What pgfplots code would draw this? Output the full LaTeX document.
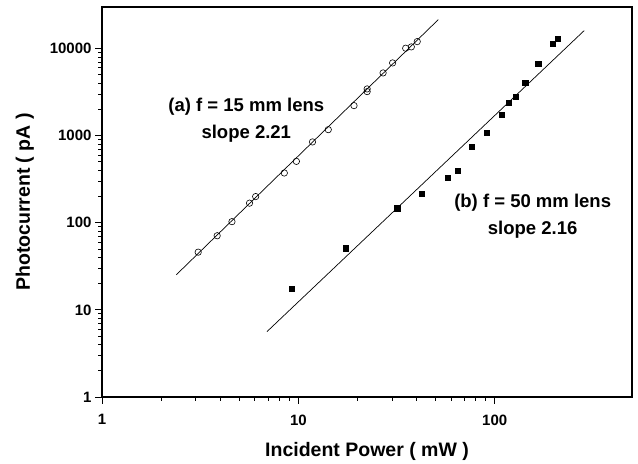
\documentclass[border=0pt]{standalone}
\usepackage{fontspec}
\setmainfont{Liberation Sans}
\usepackage{pgfplots}
\pgfplotsset{compat=1.18}

\begin{document}
\begin{tikzpicture}
\begin{axis}[
    name=ax,
    xmode=log, ymode=log,
    scale only axis,
    width=530pt, height=390pt,
    xmin=1, xmax=500,
    ymin=1, ymax=30000,
    xtick={1,10,100}, xticklabels={1,10,100},
    ytick={1,10,100,1000,10000}, yticklabels={1,10,100,1000,10000},
    xtick pos=bottom, ytick pos=left,
    tick align=outside,
    major tick length=7pt, minor tick length=4pt,
    axis line style={line width=1.1pt},
    every tick/.style={black, line width=0.9pt},
    /pgf/number format/assume math mode=true,
    tick label style={font=\bfseries\fontsize{15}{15}\selectfont},
    xticklabel style={yshift=-7pt},
    xlabel={Incident Power ( mW )},
    ylabel={Photocurrent ( pA )},
    label style={font=\bfseries\fontsize{19.5}{20}\selectfont},
    xlabel style={yshift=-10pt},
    ylabel style={yshift=9pt},
    clip=false,
]
% (a) f = 15 mm lens
\addplot[only marks, mark=o, mark size=3.2pt, mark options={line width=0.6pt}] coordinates {
 (3.09,46) (3.86,71) (4.59,103) (5.64,168) (6.06,200) (8.48,373) (9.77,507)
 (11.8,847) (14.2,1172) (19.2,2213) (22.4,3440) (22.4,3205) (27.0,5250)
 (30.2,6840) (35.2,10090) (37.6,10450) (40.3,12020)
};
\addplot[line width=0.7pt] coordinates {(2.39,25.3) (51.6,21500)};
% (b) f = 50 mm lens
\addplot[only marks, mark=square*, mark size=2.6pt] coordinates {
 (9.28,17.4) (17.4,51.2) (31.9,147) (42.3,215) (57.4,326) (65.0,393)
 (76.0,754) (91.0,1074) (108.6,1730) (118.3,2374) (127.6,2830) (142.8,4030)
 (166.3,6730) (197,11330) (209.6,12920)
};
\addplot[line width=0.7pt] coordinates {(6.92,5.63) (285.6,16100)};
\node[align=center, font=\bfseries\fontsize{18.5}{27}\selectfont] at (axis cs:5.43,1487) {(a) f = 15 mm lens\\slope 2.21};
\node[align=center, font=\bfseries\fontsize{18.5}{27}\selectfont] at (axis cs:156,120) {(b) f = 50 mm lens\\slope 2.16};
\end{axis}
\pgfresetboundingbox
\path ([xshift=-102pt,yshift=-66pt]ax.south west) rectangle ([xshift=6pt,yshift=7pt]ax.north east);
\end{tikzpicture}
\end{document}
